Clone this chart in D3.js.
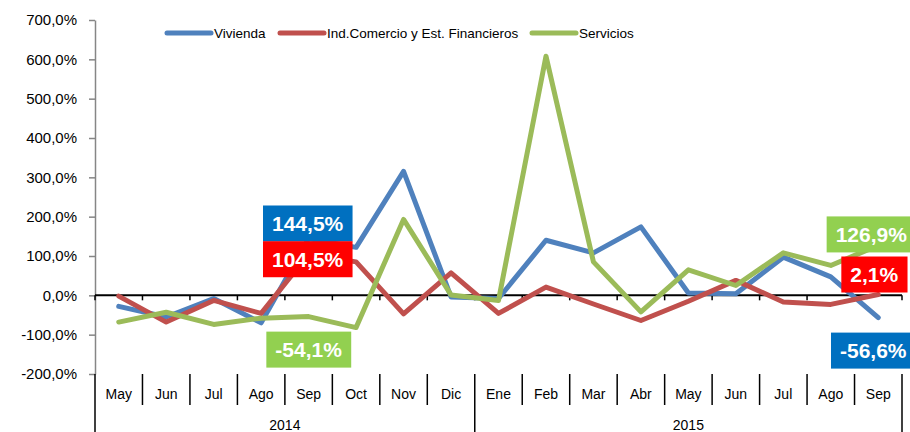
<!DOCTYPE html>
<html>
<head>
<meta charset="utf-8">
<script src="https://cdn.jsdelivr.net/npm/d3@7"></script>
<style>
  body { margin: 0; background: #fff; }
  svg { display: block; font-family: "Liberation Sans", Arial, sans-serif; }
</style>
</head>
<body>
<div id="chart"></div>
<script>
/*
** Data
*/
var months   = ["May","Jun","Jul","Ago","Sep","Oct","Nov","Dic","Ene","Feb","Mar","Abr","May","Jun","Jul","Ago","Sep"];
var years    = [{label: "2014", from: 0, to: 8}, {label: "2015", from: 8, to: 17}];
var vivienda = [-28, -55, -8, -70, 144.5, 122, 315, -4, -8, 140, 108, 174, 6, 4, 97, 47, -56.6];
var industria = [-2, -68, -13, -46, 104.5, 85, -47, 57, -46, 21, -22, -64, -15, 38, -17, -23, 2.1];
var servicios = [-68, -43, -74, -58, -54.1, -82, 193, 1, -13, 608, 85, -42, 65, 25, 108, 76, 126.9];
var yTicks   = [-200, -100, 0, 100, 200, 300, 400, 500, 600, 700];

var series = [
    {name: "Vivienda", values: vivienda, color: "#4F81BD", box: "#0070C0"}
  , {name: "Ind.Comercio y Est. Financieros", values: industria, color: "#C0504D", box: "#FF0000"}
  , {name: "Servicios", values: servicios, color: "#9BBB59", box: "#92D050"}
];

// data labels: series index, point index, nudge of the box centre from the point
var callouts = [
    {s: 0, i: 4,  dx: -1, dy: -15}
  , {s: 1, i: 4,  dx: -1, dy: 5}
  , {s: 2, i: 4,  dx: 0,  dy: 33}
  , {s: 2, i: 16, dx: -7, dy: -11}
  , {s: 1, i: 16, dx: -4, dy: -20}
  , {s: 0, i: 16, dx: -5, dy: 33}
];

/*
** Layout
*/
var W = 910, H = 432
  , plotLeft = 95, plotRight = 902
  , plotTop = 20, plotBottom = 374
;
// spanish style: comma decimal, plain hyphen for negatives
var locale = d3.formatLocale({decimal: ",", thousands: ".", grouping: [3], currency: ["", "€"], minus: "-"})
  , fmt = function(v) { return locale.format(".1f")(v) + "%"; }
;

var x = d3.scaleBand()
    .domain(d3.range(months.length))
    .range([plotLeft, plotRight])
    .paddingInner(0)
    .paddingOuter(0)
  , y = d3.scaleLinear()
    .domain([-200, 700])
    .range([plotBottom, plotTop])
  , cx = function(i) { return x(i) + x.bandwidth() / 2; }
;

var svg = d3.select("#chart")
  .append("svg")
    .attr("width", W)
    .attr("height", H)
;
svg.append("rect")
    .attr("width", W)
    .attr("height", H)
    .attr("fill", "#fff")
;

// y axis
var yAxis = d3.axisLeft(y)
    .tickValues(yTicks)
    .tickFormat(fmt)
    .tickSizeInner(6)
    .tickSizeOuter(0)
    .tickPadding(12)
;
var gy = svg.append("g")
    .attr("transform", "translate(" + plotLeft + ",0)")
    .call(yAxis)
;
gy.select(".domain").attr("stroke", "#868686").attr("stroke-width", 1.5);
gy.selectAll(".tick line").attr("stroke", "#868686").attr("stroke-width", 1.5);
gy.selectAll(".tick text")
    .attr("fill", "#000")
    .style("font-family", "'Liberation Sans', Arial, sans-serif")
    .style("font-size", "15px")
;

// category axis line at zero
var bounds = d3.range(months.length).map(function(i) { return x(i); }).concat([plotRight]);
svg.append("line")
    .attr("x1", plotLeft).attr("x2", plotRight)
    .attr("y1", y(0)).attr("y2", y(0))
    .attr("stroke", "#000")
    .attr("stroke-width", 2)
;
svg.append("g").selectAll("line")
    .data(bounds)
  .enter().append("line")
    .attr("x1", function(d) { return d; })
    .attr("x2", function(d) { return d; })
    .attr("y1", y(0))
    .attr("y2", y(0) + 5)
    .attr("stroke", "#000")
    .attr("stroke-width", 1.5)
;

// multi-level labels at the bottom
var yearEdges = [0, 8, 17];
svg.append("g").selectAll("line")
    .data(bounds)
  .enter().append("line")
    .attr("x1", function(d) { return d; })
    .attr("x2", function(d) { return d; })
    .attr("y1", plotBottom)
    .attr("y2", function(d, i) { return yearEdges.indexOf(i) >= 0 ? H : plotBottom + 31; })
    .attr("stroke", "#000")
    .attr("stroke-width", 1.5)
;
svg.append("g").selectAll("text")
    .data(months)
  .enter().append("text")
    .attr("x", function(d, i) { return cx(i); })
    .attr("y", plotBottom + 20)
    .attr("dy", "0.35em")
    .attr("text-anchor", "middle")
    .style("font-size", "14px")
    .text(function(d) { return d; })
;
svg.append("g").selectAll("text")
    .data(years)
  .enter().append("text")
    .attr("x", function(d) { return (x(d.from) + (d.to < months.length ? x(d.to) : plotRight)) / 2; })
    .attr("y", plotBottom + 51)
    .attr("dy", "0.35em")
    .attr("text-anchor", "middle")
    .style("font-size", "14px")
    .text(function(d) { return d.label; })
;

// lines
var line = d3.line()
    .x(function(d, i) { return cx(i); })
    .y(function(d) { return y(d); })
;
svg.append("g").selectAll("path")
    .data(series)
  .enter().append("path")
    .attr("d", function(d) { return line(d.values); })
    .attr("fill", "none")
    .attr("stroke", function(d) { return d.color; })
    .attr("stroke-width", 5)
    .attr("stroke-linejoin", "round")
    .attr("stroke-linecap", "round")
;

// legend
var legendX = [167, 280, 532];
var lg = svg.append("g").selectAll("g")
    .data(series)
  .enter().append("g")
    .attr("transform", function(d, i) { return "translate(" + legendX[i] + ",33)"; })
;
lg.append("line")
    .attr("x1", 0).attr("x2", 44)
    .attr("stroke", function(d) { return d.color; })
    .attr("stroke-width", 5)
    .attr("stroke-linecap", "round")
;
lg.append("text")
    .attr("x", 47)
    .attr("dy", "0.35em")
    .style("font-size", "13.5px")
    .text(function(d) { return d.name; })
;

// data label boxes
var cg = svg.append("g").selectAll("g")
    .data(callouts)
  .enter().append("g")
    .attr("transform", function(d) {
        var v = series[d.s].values[d.i];
        return "translate(" + (cx(d.i) + d.dx) + "," + (y(v) + d.dy) + ")";
      })
;
cg.append("text")
    .attr("text-anchor", "middle")
    .attr("dy", "0.36em")
    .attr("fill", "#fff")
    .style("font-size", "21px")
    .style("font-weight", "bold")
    .text(function(d) { return fmt(series[d.s].values[d.i]); })
    .each(function(d) {
        var b = this.getBBox();
        d3.select(this.parentNode).insert("rect", "text")
            .attr("x", b.x - 9)
            .attr("y", -18)
            .attr("width", b.width + 18)
            .attr("height", 36)
            .attr("fill", series[d.s].box)
        ;
      })
;
</script>
</body>
</html>
